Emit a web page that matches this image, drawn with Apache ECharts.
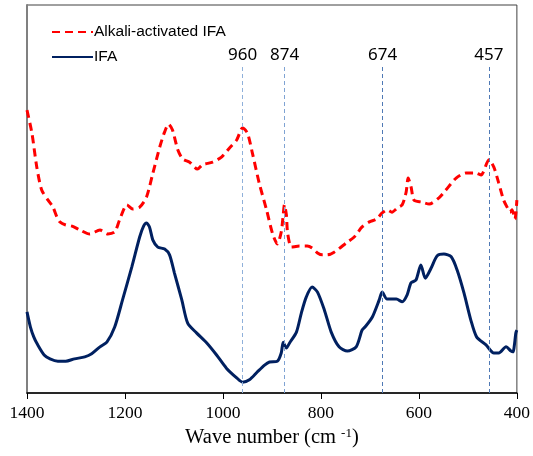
<!DOCTYPE html>
<html>
<head>
<meta charset="utf-8">
<script src="https://cdn.jsdelivr.net/npm/echarts@6/dist/echarts.min.js"></script>
<style>html,body{margin:0;padding:0;background:#fff}#c{width:533px;height:456px}</style>
</head>
<body>
<div id="c"></div>
<script>
// Wavenumbers (cm-1) and relative absorbance (a.u., arbitrary 0-100 scale)
const alkaliWN = [1400,1390,1380,1370,1357,1347,1339,1333,1321,1308,1292,1272,1251,1235,1221,1211,1196,1184,1170,1156,1143,1129,1119,1111,1103,1092,1082,1068,1052,1042,1021,1003,987,972,960,950,940,926,911,899,889,881,877,874.5,870.5,868,860,844,828,818,807,797,787,773,748,732,716,701,687,675,665,655,644,634,626,622,616,610,594,579,559,545,524,504,484,473,457,447,437,427,420,414,410,404,400];
const alkaliAbs = [72.9,67.0,58.2,52.3,49.7,47.9,45.4,44.1,43.3,43.0,42.0,41.0,42.0,41.0,41.5,44.6,48.5,47.4,47.9,50.5,56.7,63.4,67.3,69.3,67.8,62.6,60.3,59.5,57.7,58.8,59.5,60.8,63.1,65.2,68.3,67.0,61.9,54.1,47.2,41.2,38.4,41.5,45.9,48.5,45.9,41.2,37.6,37.9,37.9,37.4,36.1,35.6,35.6,36.3,38.7,40.2,42.8,44.1,44.8,46.4,47.2,46.6,47.7,48.5,51.8,55.4,53.1,49.7,49.2,48.7,50.3,52.3,55.4,56.7,56.7,56.2,60.1,58.2,54.1,49.7,47.9,46.6,47.2,44.8,49.7];

const ifaWN = [1400,1393,1386,1379,1365,1353,1337,1321,1303,1282,1268,1251,1237,1221,1205,1186,1170,1162,1156,1150,1143,1133,1119,1109,1099,1084,1072,1054,1033,1013,993,972,960,946,930,915,905,889,881,877,870.5,864,850,840,830,818,807,793,779,763,746,728,716,710,695,681,675,665,646,634,624,616,606,596,587,575,563,549,534,522,508,494,482,463,447,437,422,412,408,402,400];
const ifaAbs = [20.9,17.0,14.4,12.6,9.8,8.8,8.2,8.2,8.8,9.3,10.1,11.9,13.1,17.0,24.0,32.5,40.2,43.0,43.8,42.8,39.4,37.6,37.1,35.6,30.9,24.0,18.0,15.5,12.9,9.8,6.4,3.9,2.8,3.4,5.4,7.2,8.0,8.2,10.3,13.1,11.6,12.9,15.7,20.6,24.7,27.3,26.0,21.4,15.7,11.9,10.8,11.9,16.2,17.0,19.6,24.0,26.0,24.2,24.2,23.5,25.3,28.4,29.1,33.0,29.6,32.2,35.3,35.8,35.1,31.7,25.8,18.8,14.4,12.4,10.3,10.3,11.9,10.8,10.6,15.5,16.2];

const peakMarks = [960, 874, 674, 457];
const peakColors = ['#8fb0da', '#7fa3d3', '#4f79b5', '#4f79b5'];
const xTicks = [1400, 1200, 1000, 800, 600, 400];
const markTop = 84.3;

const chart = echarts.init(document.getElementById('c'), null, {renderer: 'canvas'});
const zip = (a, b) => a.map((x, i) => [x, b[i]]);

const markLines = peakMarks.map((p, i) => [
  {coord: [p, 0], lineStyle: {color: peakColors[i], type: [4, 3], width: 1}},
  {coord: [p, markTop]}
]);

chart.setOption({
  animation: false,
  grid: {left: 27, right: 15, top: 5, bottom: 63, show: true, borderColor: '#404040', borderWidth: 1},
  legend: {
    orient: 'vertical', left: 46, top: 19, itemWidth: 41, itemHeight: 14, itemGap: 9,
    textStyle: {fontFamily: 'Liberation Sans', fontSize: 15.5, color: '#000', padding: [0,0,0,-4]},
    itemStyle: {opacity: 0},
    data: ['Alkali-activated IFA', 'IFA']
  },
  xAxis: {
    type: 'value', inverse: true, min: 400, max: 1400, interval: 200,
    axisLine: {lineStyle: {color: '#000', width: 1.5}},
    axisTick: {show: true, inside: false, length: 6, lineStyle: {color: '#000'}},
    axisLabel: {fontFamily: 'Liberation Serif', fontSize: 17.5, color: '#000', margin: 11,
      formatter: v => xTicks.includes(v) ? String(v) : ''},
    splitLine: {show: false},
    name: 'Wave number (cm {sup|-1})', nameLocation: 'middle', nameGap: 34,
    nameTextStyle: {fontFamily: 'Liberation Serif', fontSize: 20.5, color: '#000',
      rich: {sup: {fontFamily: 'Liberation Serif', fontSize: 13, verticalAlign: 'top', padding: [0,0,9,0]}}}
  },
  yAxis: {
    type: 'value', min: 0, max: 100,
    axisLine: {show: true, lineStyle: {color: '#808080', width: 2}},
    axisTick: {show: false}, axisLabel: {show: false}, splitLine: {show: false}
  },
  series: [
    {
      name: 'Alkali-activated IFA', type: 'line', data: zip(alkaliWN, alkaliAbs),
      symbol: 'none', smooth: 0.25,
      lineStyle: {color: '#ff0000', width: 3, type: [8, 5]},
      itemStyle: {color: '#ff0000'},
      markLine: {
        silent: true, symbol: 'none',
        label: {show: true, position: 'end', formatter: p => String(peakMarks[p.dataIndex]),
          fontFamily: 'Noto Sans', fontSize: 17, color: '#000', distance: 2},
        data: markLines
      }
    },
    {
      name: 'IFA', type: 'line', data: zip(ifaWN, ifaAbs),
      symbol: 'none', smooth: 0.25,
      lineStyle: {color: '#002060', width: 3},
      itemStyle: {color: '#002060'}
    }
  ]
});
</script>
</body>
</html>
